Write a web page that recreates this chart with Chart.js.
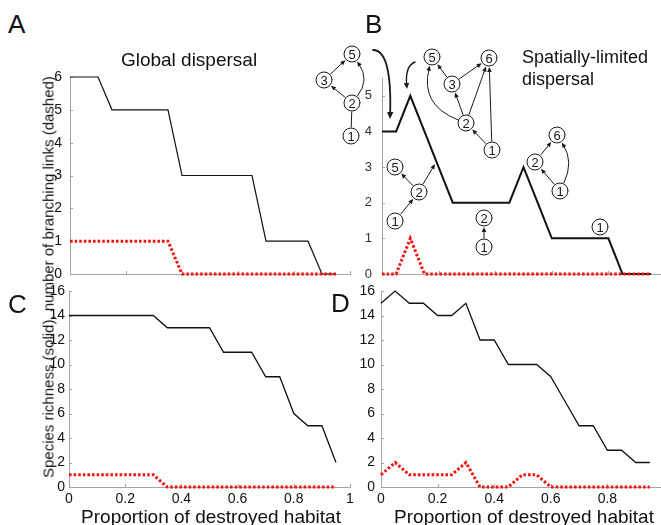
<!DOCTYPE html>
<html>
<head>
<meta charset="utf-8">
<script src="https://cdn.jsdelivr.net/npm/chart.js@4.4.1/dist/chart.umd.min.js"></script>
<style>
  html, body { margin: 0; padding: 0; background: #fff; overflow: hidden; }
  #fig { position: relative; width: 661px; height: 525px; overflow: hidden;
         font-family: "Liberation Sans", Arial, Helvetica, sans-serif; color: #111; }
  #fig canvas { position: absolute; }
  .lbl { position: absolute; white-space: nowrap; }
</style>
</head>
<body>
<div id="fig">
  <canvas id="chart-a" width="340" height="232" style="left:20px;top:60px"></canvas>
  <canvas id="chart-c" width="340" height="229" style="left:20px;top:278px"></canvas>
  <canvas id="chart-d" width="340" height="231" style="left:340px;top:276px"></canvas>
  <canvas id="chart-b" width="380" height="264" style="left:300px;top:30px"></canvas>

  <div class="lbl" style="left:8px;top:11px;font-size:26px;line-height:26px">A</div>
  <div class="lbl" style="left:365px;top:11px;font-size:26px;line-height:26px">B</div>
  <div class="lbl" style="left:8px;top:291px;font-size:26px;line-height:26px">C</div>
  <div class="lbl" style="left:331px;top:290px;font-size:26px;line-height:26px">D</div>

  <div class="lbl" style="left:89px;top:50px;width:200px;text-align:center;font-size:19px;line-height:19px">Global dispersal</div>
  <div class="lbl" style="left:522px;top:46px;font-size:18px;line-height:22px">Spatially-limited<br>dispersal</div>

  <div class="lbl" style="left:48px;top:277px;font-size:15px;line-height:15px;transform:translate(-50%,-50%) rotate(-90deg)">Species richness (solid), number of branching links (dashed)</div>

  <div class="lbl" style="left:61px;top:507px;width:300px;text-align:center;font-size:19px;line-height:19px">Proportion of destroyed habitat</div>
  <div class="lbl" style="left:374px;top:507px;width:300px;text-align:center;font-size:19px;line-height:19px">Proportion of destroyed habitat</div>
</div>

<script>
'use strict';

// ── Data (habitat destroyed in 5% steps) ──────────────────────────────
const habitatLost = [0, 0.05, 0.1, 0.15, 0.2, 0.25, 0.3, 0.35, 0.4, 0.45,
                     0.5, 0.55, 0.6, 0.65, 0.7, 0.75, 0.8, 0.85, 0.9, 0.95];

// Panel A – global dispersal, top
const globalTopSolid   = [6, 6, 6, 5, 5, 5, 5, 5, 3, 3, 3, 3, 3, 3, 1, 1, 1, 1, 0, 0];
const globalTopDashed  = [1, 1, 1, 1, 1, 1, 1, 1, 0, 0, 0, 0, 0, 0, 0, 0, 0, 0, 0, 0];
// Panel B – spatially-limited dispersal, top
const localTopSolid    = [4, 4, 5, 4, 3, 2, 2, 2, 2, 2, 3, 2, 1, 1, 1, 1, 1, 0, 0, 0];
const localTopDashed   = [0, 0, 1, 0, 0, 0, 0, 0, 0, 0, 0, 0, 0, 0, 0, 0, 0, 0, 0, 0];
// Panel C – global dispersal, species richness
const globalRichness   = [14, 14, 14, 14, 14, 14, 14, 13, 13, 13, 13, 11, 11, 11, 9, 9, 6, 5, 5, 2];
const globalBranching  = [1, 1, 1, 1, 1, 1, 1, 0, 0, 0, 0, 0, 0, 0, 0, 0, 0, 0, 0, 0];
// Panel D – spatially-limited dispersal, species richness
const localRichness    = [15, 16, 15, 15, 14, 14, 15, 12, 12, 10, 10, 10, 9, 7, 5, 5, 3, 3, 2, 2];
const localBranching   = [1, 2, 1, 1, 1, 1, 2, 0, 0, 0, 1, 1, 0, 0, 0, 0, 0, 0, 0, 0];

const xTickLabels = ['0', '0.2', '0.4', '0.6', '0.8', '1'];

// ── Style ─────────────────────────────────────────────────────────────
const AXIS_GREY = '#a4a4a4';
const LINE_BLACK = '#111';
const DOT_RED = '#f01414';

Chart.defaults.font.family = '"Liberation Sans", Arial, Helvetica, sans-serif';
Chart.defaults.color = '#111';

const toPoints = arr => habitatLost.map((x, i) => ({ x, y: arr[i] }));

// small tick marks pointing into the plot, like the original figure
const innerTicks = {
  id: 'innerTicks',
  beforeDatasetsDraw(chart) {
    const { ctx, chartArea, scales } = chart;
    ctx.save();
    ctx.strokeStyle = AXIS_GREY;
    ctx.lineWidth = 1;
    ctx.beginPath();
    scales.x.ticks.forEach(t => {
      const px = Math.round(scales.x.getPixelForValue(t.value)) + 0.5;
      ctx.moveTo(px, chartArea.bottom);
      ctx.lineTo(px, chartArea.bottom - 3);
    });
    scales.y.ticks.forEach(t => {
      const py = Math.round(scales.y.getPixelForValue(t.value)) + 0.5;
      ctx.moveTo(chartArea.left, py);
      ctx.lineTo(chartArea.left + 3, py);
    });
    ctx.stroke();
    ctx.restore();
  }
};

// ── Food-web sketches in panel B (annotation, page coordinates) ───────
const NODE_R = 8;
const webNodes = {
  a5: [352, 54, '5'], a3: [324, 80, '3'], a2: [352, 103, '2'], a1: [351, 136, '1'],
  b5: [432, 57, '5'], b6: [489, 58, '6'], b3: [452, 84, '3'], b2: [466, 123, '2'], b1: [492, 150, '1'],
  c5: [395, 167, '5'], c2: [419, 192, '2'], c1: [395, 221, '1'],
  d2: [484, 218, '2'], d1: [484, 247, '1'],
  e6: [557, 135, '6'], e2: [535, 162, '2'], e1: [560, 191, '1'],
  f1: [600, 227, '1']
};
// [from, to, arrowhead, control point for curved links]
const webLinks = [
  ['a1', 'a2', false], ['a2', 'a3', true], ['a3', 'a5', true], ['a2', 'a5', true, [370, 80]],
  ['b1', 'b2', true], ['b2', 'b3', true], ['b3', 'b5', true], ['b3', 'b6', true],
  ['b2', 'b6', true], ['b1', 'b6', true], ['b2', 'b5', true, [420, 105]],
  ['c1', 'c2', true], ['c2', 'c5', true],
  ['d1', 'd2', true],
  ['e1', 'e2', true], ['e2', 'e6', true], ['e1', 'e6', true, [574, 162]]
];
// pointers from sketches to the curve: start, control, end, width, head
const webPointers = [
  [[373, 50], [392, 50], [390, 119], 1.8, 7],
  [[415, 62], [405, 66], [407, 89], 1.4, 6],
  [[423, 184], null, [435, 164], 1, 5]
];

function arrowHead(ctx, x, y, ang, len) {
  const w = len * 0.45;
  ctx.beginPath();
  ctx.moveTo(x, y);
  ctx.lineTo(x - len * Math.cos(ang) + w * Math.sin(ang), y - len * Math.sin(ang) - w * Math.cos(ang));
  ctx.lineTo(x - len * Math.cos(ang) - w * Math.sin(ang), y - len * Math.sin(ang) + w * Math.cos(ang));
  ctx.closePath();
  ctx.fill();
}

function drawPath(ctx, s, c, t, head, lw) {
  const ang = c ? Math.atan2(t[1] - c[1], t[0] - c[0]) : Math.atan2(t[1] - s[1], t[0] - s[0]);
  const back = head ? head * 0.7 : 0;
  const tx = t[0] - back * Math.cos(ang), ty = t[1] - back * Math.sin(ang);
  ctx.lineWidth = lw;
  ctx.beginPath();
  ctx.moveTo(s[0], s[1]);
  if (c) ctx.quadraticCurveTo(c[0], c[1], tx, ty);
  else ctx.lineTo(tx, ty);
  ctx.stroke();
  if (head) arrowHead(ctx, t[0], t[1], ang, head);
}

const foodWebs = {
  id: 'foodWebs',
  afterDraw(chart) {
    const ctx = chart.ctx;
    const ox = chart.canvas.offsetLeft, oy = chart.canvas.offsetTop;
    ctx.save();
    ctx.translate(-ox, -oy);
    ctx.strokeStyle = '#1a1a1a';
    ctx.fillStyle = '#1a1a1a';
    ctx.lineCap = 'round';

    webLinks.forEach(([from, to, head, ctrl]) => {
      const a = webNodes[from], b = webNodes[to];
      const r = NODE_R + 1;
      const d0 = ctrl || b, d1 = ctrl || a;
      const a0 = Math.atan2(d0[1] - a[1], d0[0] - a[0]);
      const a1 = Math.atan2(b[1] - d1[1], b[0] - d1[0]);
      const s = [a[0] + r * Math.cos(a0), a[1] + r * Math.sin(a0)];
      const t = [b[0] - r * Math.cos(a1), b[1] - r * Math.sin(a1)];
      drawPath(ctx, s, ctrl, t, head ? 5 : 0, 1);
    });

    webPointers.forEach(([s, c, t, lw, head]) => drawPath(ctx, s, c, t, head, lw));

    ctx.font = '13px "Liberation Sans", Arial, sans-serif';
    ctx.textAlign = 'center';
    ctx.textBaseline = 'middle';
    Object.values(webNodes).forEach(([x, y, label]) => {
      ctx.beginPath();
      ctx.arc(x, y, NODE_R, 0, Math.PI * 2);
      ctx.fillStyle = '#fff';
      ctx.fill();
      ctx.lineWidth = 1;
      ctx.stroke();
      ctx.fillStyle = '#1a1a1a';
      ctx.fillText(label, x, y + 1);
    });
    ctx.restore();
  }
};

// ── One panel ─────────────────────────────────────────────────────────
function renderPanel(id, p) {
  const ctx = document.getElementById(id).getContext('2d');
  return new Chart(ctx, {
    type: 'line',
    data: {
      datasets: [
        {
          data: toPoints(p.dashed),
          borderColor: DOT_RED,
          borderWidth: 3,
          borderDash: [2.6, 2],
          pointRadius: 0,
          tension: 0,
          clip: false,
          order: 0
        },
        {
          data: toPoints(p.solid),
          borderColor: LINE_BLACK,
          borderWidth: p.lineWidth,
          pointRadius: 0,
          tension: 0,
          clip: false,
          order: 1
        }
      ]
    },
    options: {
      responsive: false,
      animation: false,
      events: [],
      layout: { padding: { left: 0, top: p.padTop, right: p.padRight, bottom: 0 } },
      plugins: { legend: { display: false }, tooltip: { enabled: false }, title: { display: false } },
      scales: {
        x: {
          type: 'linear',
          min: 0, max: 1,
          grid: { display: false, drawTicks: false },
          border: { color: AXIS_GREY, width: 1 },
          ticks: {
            display: p.xLabels,
            stepSize: 0.2,
            autoSkip: false,
            maxRotation: 0,
            padding: 4,
            font: { size: 14 },
            color: '#111',
            callback: (v, i) => xTickLabels[i]
          },
          afterFit: s => { s.height = p.axisH; }
        },
        y: {
          min: 0, max: p.yMax,
          grid: { display: false, drawTicks: false },
          border: { color: AXIS_GREY, width: 1 },
          ticks: {
            stepSize: p.yStep,
            includeBounds: false,
            autoSkip: false,
            padding: p.yPad,
            font: { size: p.yFont },
            color: p.yColor
          },
          afterFit: s => { s.width = p.axisW; }
        }
      }
    },
    plugins: p.extra ? [innerTicks, p.extra] : [innerTicks]
  });
}

renderPanel('chart-a', {
  solid: globalTopSolid, dashed: globalTopDashed, lineWidth: 1.2,
  yMax: 6, yStep: 1, yPad: 8, yFont: 14, yColor: '#111',
  axisW: 50, axisH: 18, padTop: 17, padRight: 10, xLabels: false
});
renderPanel('chart-c', {
  solid: globalRichness, dashed: globalBranching, lineWidth: 1.3,
  yMax: 16, yStep: 2, yPad: 4, yFont: 14, yColor: '#111',
  axisW: 49, axisH: 20, padTop: 13, padRight: 10, xLabels: true
});
renderPanel('chart-d', {
  solid: localRichness, dashed: localBranching, lineWidth: 1.3,
  yMax: 16, yStep: 2, yPad: 6, yFont: 14, yColor: '#111',
  axisW: 41, axisH: 20, padTop: 15, padRight: 16, xLabels: true
});
renderPanel('chart-b', {
  solid: localTopSolid, dashed: localTopDashed, lineWidth: 2,
  yMax: 5.5, yStep: 1, yPad: 10, yFont: 13, yColor: '#333',
  axisW: 82, axisH: 20, padTop: 48, padRight: 15, xLabels: false,
  extra: foodWebs
});
</script>
</body>
</html>
